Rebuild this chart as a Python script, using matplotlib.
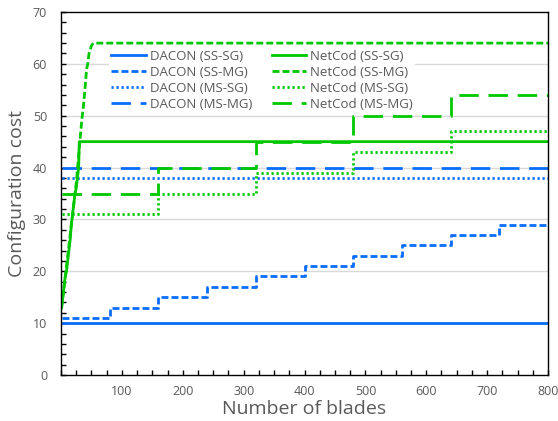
import matplotlib
matplotlib.use('Agg')
import matplotlib.pyplot as plt
from matplotlib.ticker import MultipleLocator

plt.rcParams['font.family'] = ['Open Sans', 'DejaVu Sans']

# step series share the same blade breakpoints
steps_x = [1, 160, 320, 480, 640, 800]

dacon_ss_sg_x = [1, 800]
dacon_ss_sg_y = [10, 10]

dacon_ss_mg_x = [1, 80, 160, 240, 320, 400, 480, 560, 640, 720, 800]
dacon_ss_mg_y = [11, 13, 15, 17, 19, 21, 23, 25, 27, 29, 29]

dacon_ms_sg_x = [1, 800]
dacon_ms_sg_y = [38, 38]

dacon_ms_mg_x = [1, 800]
dacon_ms_mg_y = [40, 40]

netcod_ss_sg_x = [1, 3, 5, 7, 9, 11, 13, 15, 17, 19, 21, 23, 25, 27, 29, 30, 800]
netcod_ss_sg_y = [13, 15, 17, 19, 20, 22, 24, 26, 29, 31, 33, 35, 36, 38, 40, 45, 45]

netcod_ss_mg_x = [1, 5, 10, 15, 20, 25, 28, 31, 34, 37, 40, 42, 44, 46, 50, 53, 800]
netcod_ss_mg_y = [13, 17, 22, 27, 32, 37, 41, 45, 49, 52, 56, 59, 60, 62, 63.5, 64, 64]

netcod_ms_sg_y = [31, 35, 39, 43, 47, 47]
netcod_ms_mg_y = [35, 40, 45, 50, 54, 54]

blue = '#0a6cff'
green = '#00c800'
grey = '#595959'

fig = plt.figure(figsize=(5.58, 4.21), dpi=100)
ax = fig.add_axes([61 / 558, 46 / 421, 487 / 558, 363 / 421])

lw = 2
dash = (2.5, 1.1)
longdash = (7.0, 3.5)
dot = (0.8, 1.0)

ax.plot(dacon_ss_sg_x, dacon_ss_sg_y, color=blue, lw=lw, label='DACON (SS-SG)')
ax.plot(dacon_ss_mg_x, dacon_ss_mg_y, color=blue, lw=lw, dashes=dash,
        drawstyle='steps-post', label='DACON (SS-MG)')
ax.plot(dacon_ms_sg_x, dacon_ms_sg_y, color=blue, lw=lw, dashes=dot, label='DACON (MS-SG)')
ax.plot(dacon_ms_mg_x, dacon_ms_mg_y, color=blue, lw=lw, dashes=longdash, label='DACON (MS-MG)')

ax.plot(netcod_ss_sg_x, netcod_ss_sg_y, color=green, lw=lw, label='NetCod (SS-SG)')
ax.plot(netcod_ss_mg_x, netcod_ss_mg_y, color=green, lw=lw, dashes=dash, label='NetCod (SS-MG)')
ax.plot(steps_x, netcod_ms_sg_y, color=green, lw=lw, dashes=dot,
        drawstyle='steps-post', label='NetCod (MS-SG)')
ax.plot(steps_x, netcod_ms_mg_y, color=green, lw=lw, dashes=longdash,
        drawstyle='steps-post', label='NetCod (MS-MG)')

ax.set_xlim(0, 800)
ax.set_ylim(0, 70)
ax.set_xticks(range(100, 801, 100))
ax.xaxis.set_minor_locator(MultipleLocator(25))
ax.yaxis.set_major_locator(MultipleLocator(10))
ax.yaxis.set_minor_locator(MultipleLocator(2))
ax.tick_params(which='both', direction='in', length=3.5, width=1, color='black',
               labelcolor=grey, labelsize=9)
ax.tick_params(axis='y', which='major', pad=10)
ax.tick_params(axis='x', which='major', pad=7)

for v in range(10, 70, 10):
    ax.axhline(v, color='#d9d9d9', lw=1, zorder=0)

for s in ax.spines.values():
    s.set_color('black')
    s.set_linewidth(1)

ax.set_xlabel('Number of blades', fontsize=14, color=grey, labelpad=2)
ax.set_ylabel('Configuration cost', fontsize=14, color=grey, labelpad=5)

leg = ax.legend(ncol=2, loc='upper left', bbox_to_anchor=(0.098, 0.903), borderaxespad=0,
                fontsize=9.5, handlelength=2.6, handletextpad=0.3, columnspacing=1.5,
                labelspacing=0.22, frameon=True, facecolor='white', edgecolor='none',
                framealpha=1, fancybox=False, borderpad=0.2)
for t in leg.get_texts():
    t.set_color(grey)

fig.savefig('out.png', dpi=100)
